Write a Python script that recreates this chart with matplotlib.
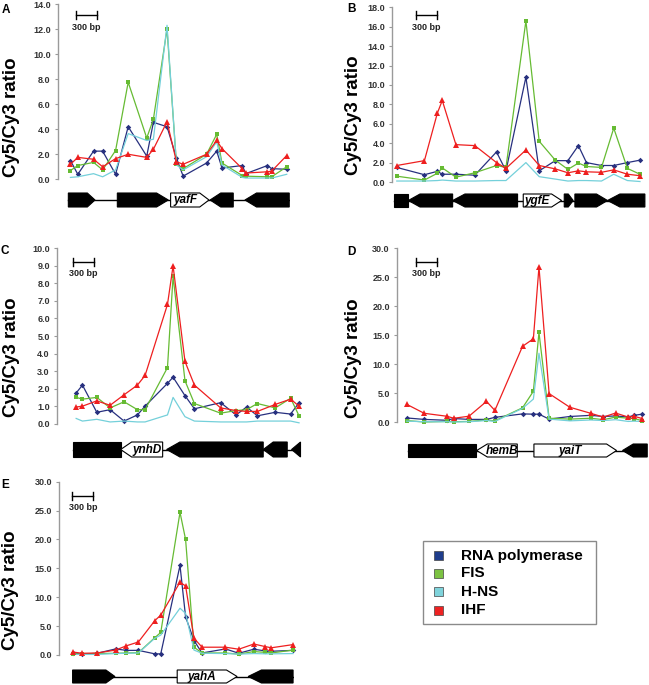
import numpy as np
import matplotlib
matplotlib.use('Agg')
import matplotlib.pyplot as plt
from matplotlib.patches import Polygon, Rectangle
from matplotlib.transforms import blended_transform_factory

plt.rcParams['font.family'] = ['Liberation Sans', 'DejaVu Sans']
plt.rcParams['font.weight'] = 'bold'

W, H = 649, 685

series_names = ['RNA polymerase', 'FIS', 'H-NS', 'IHF']
line_colors = ['#27307f', '#66bb33', '#74d0da', '#ee1f1f']
box_colors = ['#1f3d8c', '#7cc242', '#7fd3db', '#ee2222']

# ---- panel A (yafF) ----
a_pos = [30, 135, 360, 490, 675, 855, 1120, 1215, 1410, 1545, 1640, 1975, 2120, 2195, 2485, 2535, 2845, 2905, 3120]
a_rnap = [1.5, 0.4, 2.25, 2.25, 0.4, 4.2, 1.85, 4.55, 4.2, 1.7, 0.25, 1.3, 2.25, 0.9, 1.1, 0.45, 1.1, 0.85, 0.8]
a_fis = [0.7, 1.1, 1.35, 0.75, 2.3, 7.75, 3.3, 4.8, 12.0, 1.2, 0.85, 2.0, 3.6, 1.3, 0.3, 0.25, 0.2, 0.2, 1.0]
a_hns = [0.15, 0.2, 0.45, 0.2, 0.75, 3.65, 3.1, 3.2, 12.3, 1.15, 0.75, 1.8, 3.0, 1.15, 0.15, 0.1, 0.1, 0.1, 0.4]
a_ihf = [1.2, 1.75, 1.6, 1.0, 1.65, 2.0, 1.75, 2.4, 4.6, 1.4, 1.2, 2.0, 3.1, 2.45, 0.85, 0.5, 0.6, 0.65, 1.9]
a_gene_start = [0, 700, 1461, 2025, 2523]
a_gene_end = [381, 1428, 2010, 2356, 3156]
a_gene_strand = [1, 1, 1, -1, -1]
a_gene_head = [110, 167, 133, 153, 166]
a_gene_name = ['', '', 'yafF', '', '']

# ---- panel B (ygfE) ----
b_pos = [35, 430, 615, 685, 880, 1150, 1460, 1595, 1880, 2070, 2300, 2480, 2630, 2745, 2960, 3135, 3330, 3510]
b_rnap = [1.5, 0.75, 1.1, 0.8, 0.8, 0.7, 3.1, 1.15, 10.8, 1.15, 2.2, 2.2, 3.75, 2.0, 1.7, 1.7, 2.0, 2.25]
b_fis = [0.6, 0.2, 0.9, 1.45, 0.5, 0.95, 1.7, 1.5, 16.6, 4.2, 2.25, 1.3, 1.95, 1.6, 1.5, 5.55, 1.4, 0.8]
b_hns = [0.1, 0.1, 0.15, 0.2, 0.1, 0.1, 0.15, 0.15, 2.0, 0.55, 0.3, 0.1, 0.15, 0.15, 0.1, 0.8, 0.15, 0.05]
b_ihf = [1.7, 2.2, 7.1, 8.4, 3.85, 3.75, 2.0, 1.4, 3.3, 1.7, 1.35, 0.95, 1.15, 1.05, 1.0, 1.25, 0.8, 0.65]
b_gene_start = [0, 200, 833, 1842, 2428, 2580, 3046]
b_gene_end = [200, 833, 1761, 2390, 2556, 3046, 3580]
b_gene_strand = [1, -1, -1, 1, 1, 1, -1]
b_gene_head = [0, 167, 176, 143, 71, 157, 177]
b_gene_name = ['', '', '', 'ygfE', '', '', '']

# ---- panel C (ynhD) ----
c_pos = [40, 130, 335, 525, 725, 915, 1025, 1345, 1425, 1595, 1730, 2105, 2325, 2475, 2630, 2885, 3105, 3225]
c_rnap = [1.75, 2.2, 0.65, 0.8, 0.15, 0.5, 1.0, 2.3, 2.65, 1.6, 0.85, 1.2, 0.5, 0.95, 0.45, 0.65, 0.55, 1.2]
c_fis = [1.5, 1.4, 1.5, 0.9, 1.25, 0.8, 0.8, 3.2, 8.4, 2.45, 1.15, 0.6, 0.75, 0.8, 1.15, 0.9, 1.45, 0.45]
c_hns = [0.3, 0.15, 0.25, 0.1, 0.15, 0.1, 0.1, 0.5, 1.5, 0.4, 0.15, 0.1, 0.1, 0.1, 0.15, 0.15, 0.15, 0.05]
c_ihf = [0.95, 1.0, 1.3, 1.05, 1.65, 2.2, 2.75, 6.8, 9.0, 3.55, 2.2, 0.9, 0.75, 0.7, 0.7, 1.1, 1.4, 1.0]
c_gene_start = [0, 676, 1333, 2713, 3118]
c_gene_end = [676, 1276, 2713, 3056, 3246]
c_gene_strand = [1, -1, -1, -1, -1]
c_gene_head = [0, 157, 190, 143, 128]
c_gene_name = ['', 'ynhD', '', '', '']

# ---- panel D (hemB / yaiT) ----
d_pos = [0, 250, 570, 675, 890, 1140, 1260, 1655, 1810, 1890, 2035, 2330, 2630, 2810, 2985, 3165, 3245, 3365]
d_rnap = [0.75, 0.5, 0.35, 0.65, 0.5, 0.5, 0.85, 1.45, 1.4, 1.4, 0.55, 1.0, 1.2, 1.0, 1.1, 0.9, 1.2, 1.4]
d_fis = [0.3, 0.05, 0.15, 0.1, 0.15, 0.4, 0.25, 2.5, 5.35, 15.5, 0.7, 0.55, 0.7, 0.45, 0.9, 0.7, 0.65, 0.3]
d_hns = [0.2, 0.1, 0.1, 0.05, 0.1, 0.3, 0.15, 2.4, 4.0, 11.9, 0.55, 0.25, 0.4, 0.3, 0.45, 0.15, 0.2, 0.15]
d_ihf = [3.1, 1.55, 1.05, 0.7, 1.05, 3.6, 2.05, 13.1, 14.4, 26.8, 4.95, 2.6, 1.55, 0.9, 1.6, 0.9, 1.05, 0.65]
d_gene_start = [14, 1000, 1818, 3084]
d_gene_end = [990, 1580, 2999, 3437]
d_gene_strand = [1, -1, 1, -1]
d_gene_head = [0, 152, 143, 153]
d_gene_name = ['', 'hemB', 'yaiT', '']

# ---- panel E (yahA) ----
e_pos = [10, 140, 350, 615, 770, 940, 1175, 1260, 1535, 1615, 1735, 1850, 2185, 2375, 2590, 2755, 2840, 3150]
e_rnap = [0.3, 0.15, 0.3, 1.05, 0.8, 0.8, 0.2, 0.2, 15.5, 6.6, 2.5, 0.35, 1.05, 0.3, 1.0, 0.7, 0.65, 0.8]
e_fis = [0.25, 0.1, 0.25, 0.3, 0.35, 0.4, 3.0, 3.9, 24.7, 20.0, 1.35, 0.35, 0.35, 0.15, 0.6, 0.45, 0.35, 0.85]
e_hns = [0.1, 0.1, 0.1, 0.25, 0.3, 0.35, 2.9, 3.45, 8.1, 7.2, 0.85, 0.3, 0.25, 0.15, 0.25, 0.2, 0.2, 0.25]
e_ihf = [0.5, 0.3, 0.35, 0.85, 1.6, 2.25, 5.95, 6.9, 12.6, 11.95, 2.9, 1.35, 1.35, 1.0, 1.9, 1.45, 1.25, 1.8]
e_gene_start = [0, 1495, 2509]
e_gene_end = [605, 2351, 3151]
e_gene_strand = [1, 1, -1]
e_gene_head = [129, 152, 190]
e_gene_name = ['', 'yahA', '']

panels = [
    dict(letter='A', pos=a_pos, vals=[a_rnap, a_fis, a_hns, a_ihf], ymax=14, ystep=2,
         genes=(a_gene_start, a_gene_end, a_gene_strand, a_gene_head, a_gene_name),
         xlim=(-155, 3167), box=(57.5, 290, 4, 179.3), track=(193, 207),
         bar=(105, 15, 28), lab=(6, 10), ylab=(11.5, 117)),
    dict(letter='B', pos=b_pos, vals=[b_rnap, b_fis, b_hns, b_ihf], ymax=18, ystep=2,
         genes=(b_gene_start, b_gene_end, b_gene_strand, b_gene_head, b_gene_name),
         xlim=(-29, 3586), box=(392.3, 645.3, 7.3, 182), track=(194, 207),
         bar=(305, 15, 28), lab=(351, 9), ylab=(353, 115)),
    dict(letter='C', pos=c_pos, vals=[c_rnap, c_fis, c_hns, c_ihf], ymax=10, ystep=1,
         genes=(c_gene_start, c_gene_end, c_gene_strand, c_gene_head, c_gene_name),
         xlim=(-238, 3253), box=(56.7, 301, 248.3, 423.7), track=(442, 457),
         bar=(-5, 262, 274), lab=(5, 251), ylab=(11.5, 357)),
    dict(letter='D', pos=d_pos, vals=[d_rnap, d_fis, d_hns, d_ihf], ymax=30, ystep=5,
         genes=(d_gene_start, d_gene_end, d_gene_strand, d_gene_head, d_gene_name),
         xlim=(-143, 3438), box=(396.7, 647.3, 248.3, 422.3), track=(444, 457),
         bar=(128, 262, 273), lab=(351, 252), ylab=(353, 358)),
    dict(letter='E', pos=e_pos, vals=[e_rnap, e_fis, e_hns, e_ihf], ymax=30, ystep=5,
         genes=(e_gene_start, e_gene_end, e_gene_strand, e_gene_head, e_gene_name),
         xlim=(-190, 3160), box=(59.3, 293.7, 481.7, 655), track=(670, 683),
         bar=(-4, 495.7, 508), lab=(5, 485), ylab=(10.5, 590)),
]

markers = ['D', 's', '', '^']
msizes = [2.8, 3.4, 0, 3.8]
draw_order = [2, 1, 0, 3]


def rect(left, right, top, bottom):
    return [left / W, 1 - bottom / H, (right - left) / W, (bottom - top) / H]


fig = plt.figure(figsize=(W / 100, H / 100), dpi=100)

for p in panels:
    left, right, top, bottom = p['box']
    ax = fig.add_axes(rect(left, right, top, bottom))
    for i in draw_order:
        ax.plot(p['pos'], p['vals'][i], color=line_colors[i], lw=0.9,
                marker=markers[i], markersize=msizes[i], markeredgewidth=0,
                clip_on=False, zorder=2 + i)
    ax.set_xlim(*p['xlim'])
    ax.set_ylim(0, p['ymax'])
    ax.set_yticks(np.arange(0, p['ymax'] + 0.01, p['ystep']))
    ax.yaxis.set_major_formatter(matplotlib.ticker.FormatStrFormatter('%.1f'))
    for s in ['top', 'right', 'bottom']:
        ax.spines[s].set_visible(False)
    ax.spines['left'].set_color('#9a9a9a')
    ax.spines['left'].set_linewidth(1.0)
    ax.set_xticks([])
    ax.tick_params(axis='y', length=2.5, width=0.8, color='#9a9a9a', pad=2.5,
                   labelsize=6.5, labelcolor='#333333')
    for t in ax.get_yticklabels():
        t.set_fontweight('bold')
    ax.patch.set_alpha(0)

    # 300 bp scale bar
    bx, by, ty = p['bar']
    frac = lambda py: (bottom - py) / (bottom - top)
    tr = blended_transform_factory(ax.transData, ax.transAxes)
    cap = 4 / (bottom - top)
    ax.plot([bx, bx + 300], [frac(by)] * 2, color='black', lw=1.0, transform=tr, clip_on=False)
    for xx in (bx, bx + 300):
        ax.plot([xx, xx], [frac(by) - cap, frac(by) + cap], color='black', lw=1.0,
                transform=tr, clip_on=False)
    ax.text(bx + 150, frac(ty), '300 bp', transform=tr, ha='center', va='center',
            fontsize=6.5, fontweight='bold', color='#222222')

    # gene map
    tax = fig.add_axes(rect(left, right, p['track'][0], p['track'][1]))
    tax.set_xlim(*p['xlim'])
    tax.set_ylim(0, 1)
    tax.axis('off')
    starts, ends, strands, heads, names = p['genes']
    tax.plot([starts[0], ends[-1]], [0.5, 0.5], color='black', lw=1.0, zorder=1)
    for s, e, st, hd, nm in zip(starts, ends, strands, heads, names):
        if hd == 0:
            xy = [(s, 0), (e, 0), (e, 1), (s, 1)]
        elif st > 0:
            xy = [(s, 0), (e - hd, 0), (e, 0.5), (e - hd, 1), (s, 1)]
        else:
            xy = [(e, 0), (s + hd, 0), (s, 0.5), (s + hd, 1), (e, 1)]
        tax.add_patch(Polygon(xy, closed=True, facecolor='white' if nm else 'black',
                              edgecolor='black', lw=0.8, zorder=2, clip_on=False))
        if nm:
            tax.text((s + e - st * hd) / 2, 0.47, nm, ha='center', va='center',
                     fontsize=8.5, fontweight='bold', fontstyle='italic', zorder=3)

    lx, ly = p['lab']
    fig.text(lx / W, 1 - ly / H, p['letter'], ha='center', va='center',
             fontsize=8.5, fontweight='bold')
    yx, yy = p['ylab']
    fig.text(yx / W, 1 - yy / H, 'Cy5/Cy3 ratio', rotation=90, ha='center', va='center',
             fontsize=13.5, fontweight='bold')

# legend box
lg_left, lg_right, lg_top, lg_bottom = 422.7, 596, 540.7, 624
fig.patches.append(Rectangle((lg_left / W, 1 - lg_bottom / H), (lg_right - lg_left) / W,
                             (lg_bottom - lg_top) / H, transform=fig.transFigure,
                             facecolor='white', edgecolor='#8a8a8a', lw=1.0))
row_y = [555.7, 573.3, 591.7, 610]
for name, col, ry in zip(series_names, box_colors, row_y):
    fig.patches.append(Rectangle((433.5 / W, 1 - (ry + 4.5) / H), 9 / W, 9 / H,
                                 transform=fig.transFigure, facecolor=col,
                                 edgecolor='#444444', lw=0.5))
    fig.text(460.7 / W, 1 - ry / H, name, ha='left', va='center', fontsize=11,
             fontweight='bold')

fig.savefig('out.png', dpi=100)
